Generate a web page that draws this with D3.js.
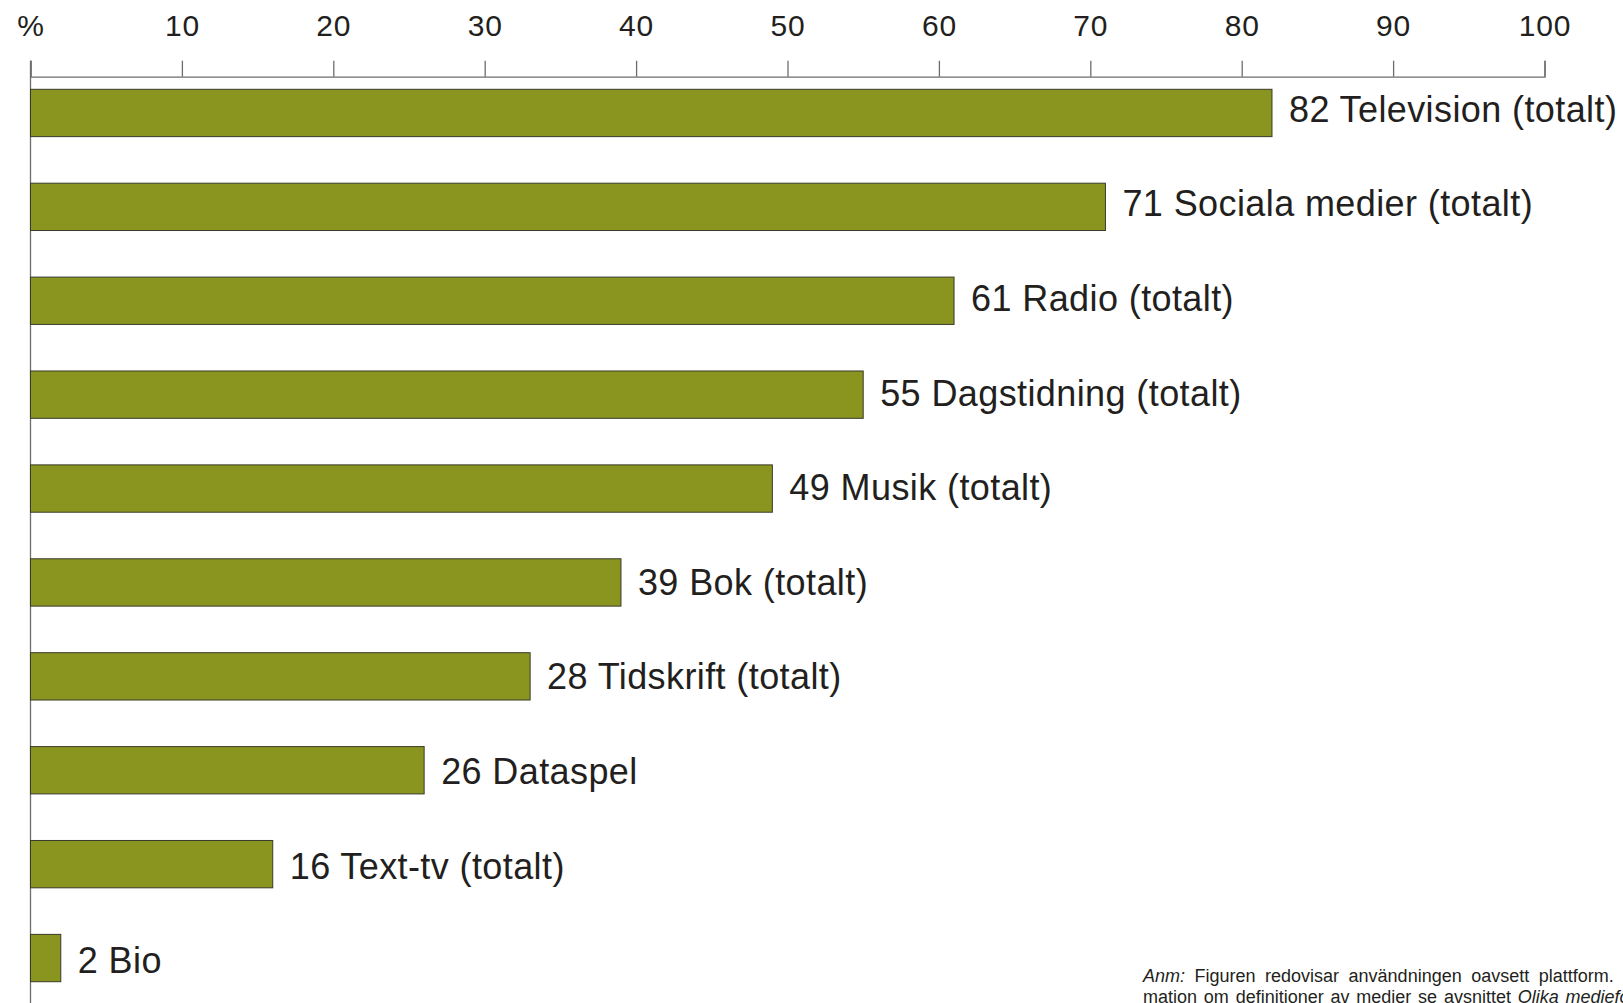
<!DOCTYPE html>
<html>
<head>
<meta charset="utf-8">
<script src="https://cdn.jsdelivr.net/npm/d3@7"></script>
<style>
    html, body { margin: 0; padding: 0; background: #fff; overflow: hidden; }
    svg { display: block; font-family: "Liberation Sans", Arial, Helvetica, sans-serif; }
</style>
</head>
<body>
<div id="chart"></div>
<script>
const categories = ['Television (totalt)', 'Sociala medier (totalt)', 'Radio (totalt)', 'Dagstidning (totalt)',
    'Musik (totalt)', 'Bok (totalt)', 'Tidskrift (totalt)', 'Dataspel', 'Text-tv (totalt)', 'Bio'];
// bar lengths as drawn in the source (the Tidskrift bar is drawn at ~33 although labelled 28)
const values = [82, 71, 61, 55, 49, 39, 33, 26, 16, 2];
const labelValues = [82, 71, 61, 55, 49, 39, 28, 26, 16, 2];
const tickValues = [0, 10, 20, 30, 40, 50, 60, 70, 80, 90, 100];
const noteLines = [
    [{ t: 'Anm:', i: true }, { t: ' Figuren redovisar användningen oavsett plattform.', i: false }],
    [{ t: 'mation om definitioner av medier se avsnittet ', i: false }, { t: 'Olika medieformer', i: true }]
];
const noteSpacing = [4.5, 1.8];

const width = 1623, height = 1003;
const data = categories.map((c, i) => ({ name: c, value: values[i], label: labelValues[i] }));

const svg = d3.select('#chart')
    .append('svg')
    .attr('width', width)
    .attr('height', height);

const x = d3.scaleLinear().domain([0, 100]).range([30.5, 1544.5]);
const y = d3.scaleBand()
    .domain(categories)
    .range([89.3, 981.7])
    .paddingInner(0.496)
    .paddingOuter(0);
// label baselines drift slightly lower than the bars in the source
const yLabel = d3.scalePoint().domain(categories).range([121.7, 973.3]);

// top axis
const axisY = 76.7;
const axis = svg.append('g')
    .attr('transform', `translate(0,${axisY})`)
    .call(d3.axisTop(x)
        .tickValues(tickValues)
        .tickSize(16)
        .tickSizeOuter(16)
        .tickPadding(24.7)
        .tickFormat(d => d === 0 ? '%' : d));
axis.selectAll('path, line').attr('stroke', '#6d6d6d').attr('stroke-width', 1.3);
axis.selectAll('text')
    .attr('font-size', 30)
    .attr('letter-spacing', 0.8)
    .attr('fill', '#231f20')
    .attr('font-family', '"Liberation Sans", Arial, sans-serif');

// vertical baseline
svg.append('line')
    .attr('x1', x(0)).attr('x2', x(0))
    .attr('y1', axisY - 16).attr('y2', height)
    .attr('stroke', '#6d6d6d')
    .attr('stroke-width', 1.3);

svg.append('g')
    .selectAll('rect')
    .data(data)
    .enter().append('rect')
    .attr('x', x(0))
    .attr('y', d => y(d.name))
    .attr('width', d => x(d.value) - x(0))
    .attr('height', y.bandwidth())
    .attr('fill', '#8a9520')
    .attr('stroke', '#3a3a2a')
    .attr('stroke-width', 1);

svg.append('g')
    .selectAll('text')
    .data(data)
    .enter().append('text')
    .attr('x', d => x(d.value) + 17)
    .attr('y', d => yLabel(d.name))
    .attr('font-size', 36)
    .attr('letter-spacing', 0.4)
    .attr('fill', '#231f20')
    .text(d => d.label + ' ' + d.name);

// note, cut off at the right and bottom edges as in the source
const note = svg.append('g').attr('font-size', 18).attr('fill', '#231f20');
noteLines.forEach((parts, li) => {
    const t = note.append('text')
        .attr('x', 1143)
        .attr('y', 981.7 + li * 21)
        .attr('word-spacing', noteSpacing[li]);
    parts.forEach(p => {
        t.append('tspan')
            .attr('font-style', p.i ? 'italic' : 'normal')
            .text(p.t);
    });
});
</script>
</body>
</html>
